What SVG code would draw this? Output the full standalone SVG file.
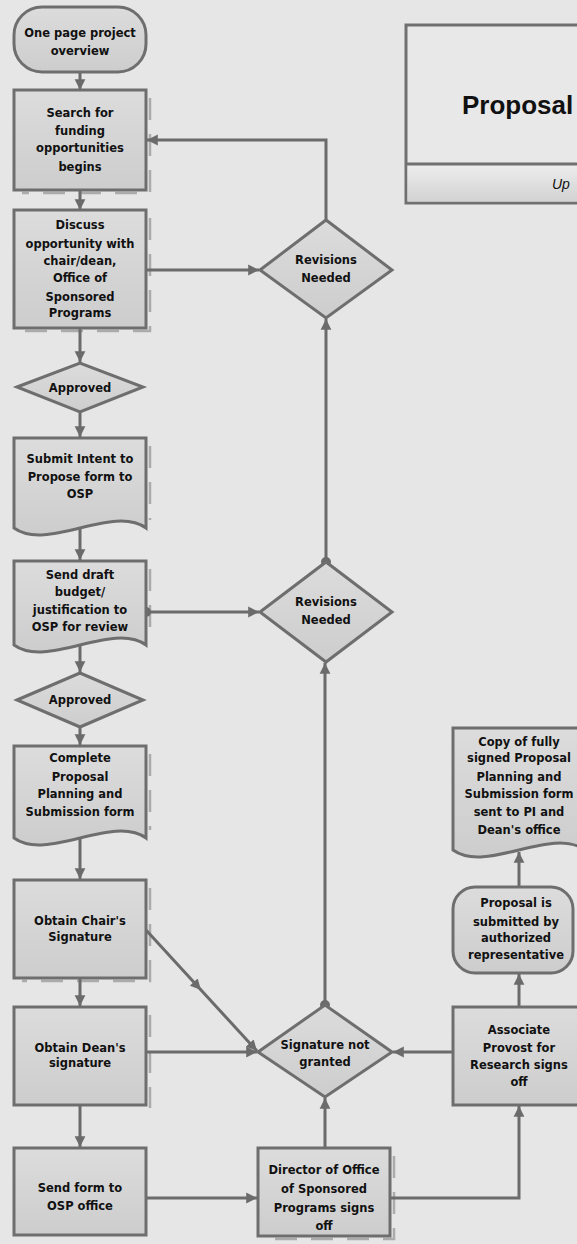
<svg xmlns="http://www.w3.org/2000/svg" width="577" height="1244" viewBox="0 0 577 1244">
<defs>
<linearGradient id="gf" x1="0" y1="0" x2="0" y2="1">
<stop offset="0" stop-color="#dcdcdc"/>
<stop offset="1" stop-color="#cdcdcd"/>
</linearGradient>
<linearGradient id="gband" x1="0" y1="0" x2="0" y2="1">
<stop offset="0" stop-color="#ededed"/>
<stop offset="1" stop-color="#d2d2d2"/>
</linearGradient>
<marker id="ah" viewBox="0 0 10 10" refX="9" refY="5" markerWidth="12" markerHeight="12" markerUnits="userSpaceOnUse" orient="auto">
<path d="M0,0.5 L9,5 L0,9.5 z" fill="#6b6b6b"/>
</marker>
<marker id="dot" viewBox="0 0 10 10" refX="5" refY="5" markerWidth="10" markerHeight="10" markerUnits="userSpaceOnUse" orient="auto">
<circle cx="5" cy="5" r="5" fill="#6b6b6b"/>
</marker>
</defs>
<style>
.node{fill:url(#gf);stroke:#6e6e6e;stroke-width:3}
.sh{fill:none;stroke:#9c9c9c;stroke-width:2.5;stroke-dasharray:22 14;opacity:0.8}
.c{fill:none;stroke:#6b6b6b;stroke-width:3}
.a{marker-end:url(#ah)}
.t{font-family:"DejaVu Sans",Verdana,sans-serif;font-weight:bold;font-size:11.5px;fill:#111;text-anchor:middle}
</style>
<rect width="577" height="1244" fill="#e6e6e6"/>

<g id="shadows">
<path class="sh" d="M150,98 V193 H22"/>
<path class="sh" d="M150,218 V331 H22"/>
<path class="sh" d="M150,446 V520"/>
<path class="sh" d="M150,569 V640"/>
<path class="sh" d="M150,754 V830"/>
<path class="sh" d="M150,888 V981 H22"/>
<path class="sh" d="M150,1015 V1108"/>
<path class="sh" d="M394,1156 V1239 H266"/>
</g>

<g id="title">
<rect x="406" y="25" width="180" height="178" fill="#e8e8e8" stroke="#707070" stroke-width="3"/>
<rect x="407.5" y="165" width="177" height="36.5" fill="url(#gband)"/>
<line x1="406" y1="164" x2="586" y2="164" stroke="#707070" stroke-width="3"/>
<text x="462" y="114" font-family="'Liberation Sans',Arial,sans-serif" font-weight="bold" font-size="26" fill="#111">Proposal</text>
<text x="552" y="189" font-family="'Liberation Sans',Arial,sans-serif" font-style="italic" font-size="14" fill="#111">Up</text>
</g>

<g id="connectors">
<path class="c a" d="M80,72 V90"/>
<path class="c a" d="M80,190 V210"/>
<path class="c a" d="M146,270 H259"/>
<path class="c a" d="M326,220 V140 H147"/>
<path class="c a" d="M80,328 V362"/>
<path class="c a" d="M80,412 V437"/>
<path class="c a" d="M80,528 V560"/>
<path class="c a" d="M146,612 H259" marker-start="url(#dot)"/>
<path class="c a" d="M326,562 V319" marker-start="url(#dot)"/>
<path class="c a" d="M80,645 V672"/>
<path class="c a" d="M80,727 V745"/>
<path class="c a" d="M80,838 V879"/>
<path class="c a" d="M80,978 V1006"/>
<path class="c a" d="M146,930 L201,990 L257,1051" marker-mid="url(#ah)"/>
<path class="c a" d="M146,1052 H257"/>
<path class="c a" d="M80,1105 V1147"/>
<path class="c a" d="M146,1198 H257"/>
<path class="c a" d="M325,1148 V1098"/>
<path class="c a" d="M325,1005 V663" marker-start="url(#dot)"/>
<path class="c a" d="M390,1198 H519 V1106"/>
<path class="c a" d="M453,1052 H393"/>
<path class="c a" d="M519,1007 V974"/>
<path class="c a" d="M519,887 V852"/>
</g>

<g id="n-overview">
<rect class="node" x="14" y="7" width="132" height="65" rx="28" ry="28"/>
<text class="t" x="80" y="37">One page project</text>
<text class="t" x="80" y="55">overview</text>
</g>

<g id="n-search">
<rect class="node" x="14" y="90" width="132" height="100"/>
<text class="t" x="80" y="117">Search for</text>
<text class="t" x="80" y="135">funding</text>
<text class="t" x="80" y="152">opportunities</text>
<text class="t" x="80" y="171">begins</text>
</g>

<g id="n-discuss">
<rect class="node" x="14" y="210" width="132" height="118"/>
<text class="t" x="80" y="229">Discuss</text>
<text class="t" x="80" y="248">opportunity with</text>
<text class="t" x="80" y="265">chair/dean,</text>
<text class="t" x="80" y="282">Office of</text>
<text class="t" x="80" y="301">Sponsored</text>
<text class="t" x="80" y="317">Programs</text>
</g>

<g id="n-approved1">
<path class="node" d="M17,387 L80,363 L143,387 L80,412 z"/>
<text class="t" x="80" y="392">Approved</text>
</g>

<g id="n-intent">
<path class="node" d="M14,438 H146 V528 C113,552 47,504 14,528 z" transform="matrix(-1 0 0 1 160 0)"/>
<text class="t" x="80" y="463">Submit Intent to</text>
<text class="t" x="80" y="481">Propose form to</text>
<text class="t" x="80" y="498">OSP</text>
</g>

<g id="n-budget">
<path class="node" d="M14,561 H146 V645 C113,669 47,621 14,645 z" transform="matrix(-1 0 0 1 160 0)"/>
<text class="t" x="80" y="579">Send draft</text>
<text class="t" x="80" y="596">budget/</text>
<text class="t" x="80" y="614">justification to</text>
<text class="t" x="80" y="631">OSP for review</text>
</g>

<g id="n-approved2">
<path class="node" d="M17,700 L80,673 L143,700 L80,727 z"/>
<text class="t" x="80" y="704">Approved</text>
</g>

<g id="n-complete">
<path class="node" d="M14,746 H146 V838 C113,862 47,814 14,838 z" transform="matrix(-1 0 0 1 160 0)"/>
<text class="t" x="80" y="762">Complete</text>
<text class="t" x="80" y="781">Proposal</text>
<text class="t" x="80" y="798">Planning and</text>
<text class="t" x="80" y="816">Submission form</text>
</g>

<g id="n-chair">
<rect class="node" x="14" y="880" width="132" height="98"/>
<text class="t" x="80" y="925">Obtain Chair's</text>
<text class="t" x="80" y="941">Signature</text>
</g>

<g id="n-dean">
<rect class="node" x="14" y="1007" width="132" height="98"/>
<text class="t" x="80" y="1052">Obtain Dean's</text>
<text class="t" x="80" y="1067">signature</text>
</g>

<g id="n-sendform">
<rect class="node" x="14" y="1148" width="132" height="87"/>
<text class="t" x="80" y="1192">Send form to</text>
<text class="t" x="80" y="1210">OSP office</text>
</g>

<g id="n-rev1">
<path class="node" d="M260,270 L326,220 L392,270 L326,318 z"/>
<text class="t" x="326" y="264">Revisions</text>
<text class="t" x="326" y="282">Needed</text>
</g>

<g id="n-rev2">
<path class="node" d="M260,612 L326,562 L392,612 L326,662 z"/>
<text class="t" x="326" y="606">Revisions</text>
<text class="t" x="326" y="624">Needed</text>
</g>

<g id="n-signot">
<path class="node" d="M258,1052 L325,1005 L392,1052 L325,1097 z"/>
<text class="t" x="325" y="1049">Signature not</text>
<text class="t" x="325" y="1066">granted</text>
</g>

<g id="n-director">
<rect class="node" x="258" y="1148" width="132" height="88"/>
<text class="t" x="324" y="1174">Director of Office</text>
<text class="t" x="324" y="1193">of Sponsored</text>
<text class="t" x="324" y="1212">Programs signs</text>
<text class="t" x="324" y="1230">off</text>
</g>

<g id="n-associate">
<rect class="node" x="453" y="1007" width="132" height="98"/>
<text class="t" x="519" y="1034">Associate</text>
<text class="t" x="519" y="1052">Provost for</text>
<text class="t" x="519" y="1069">Research signs</text>
<text class="t" x="519" y="1086">off</text>
</g>

<g id="n-submitted">
<rect class="node" x="453" y="887" width="120" height="86" rx="22" ry="22"/>
<text class="t" x="516" y="907">Proposal is</text>
<text class="t" x="516" y="926">submitted by</text>
<text class="t" x="516" y="942">authorized</text>
<text class="t" x="516" y="959">representative</text>
</g>

<g id="n-copy">
<path class="node" d="M453,728 H585 V850 C552,874 486,826 453,850 z" transform="matrix(-1 0 0 1 1038 0)"/>
<text class="t" x="519" y="746">Copy of fully</text>
<text class="t" x="519" y="762">signed Proposal</text>
<text class="t" x="519" y="781">Planning and</text>
<text class="t" x="519" y="798">Submission form</text>
<text class="t" x="519" y="816">sent to PI and</text>
<text class="t" x="519" y="834">Dean's office</text>
</g>
</svg>
